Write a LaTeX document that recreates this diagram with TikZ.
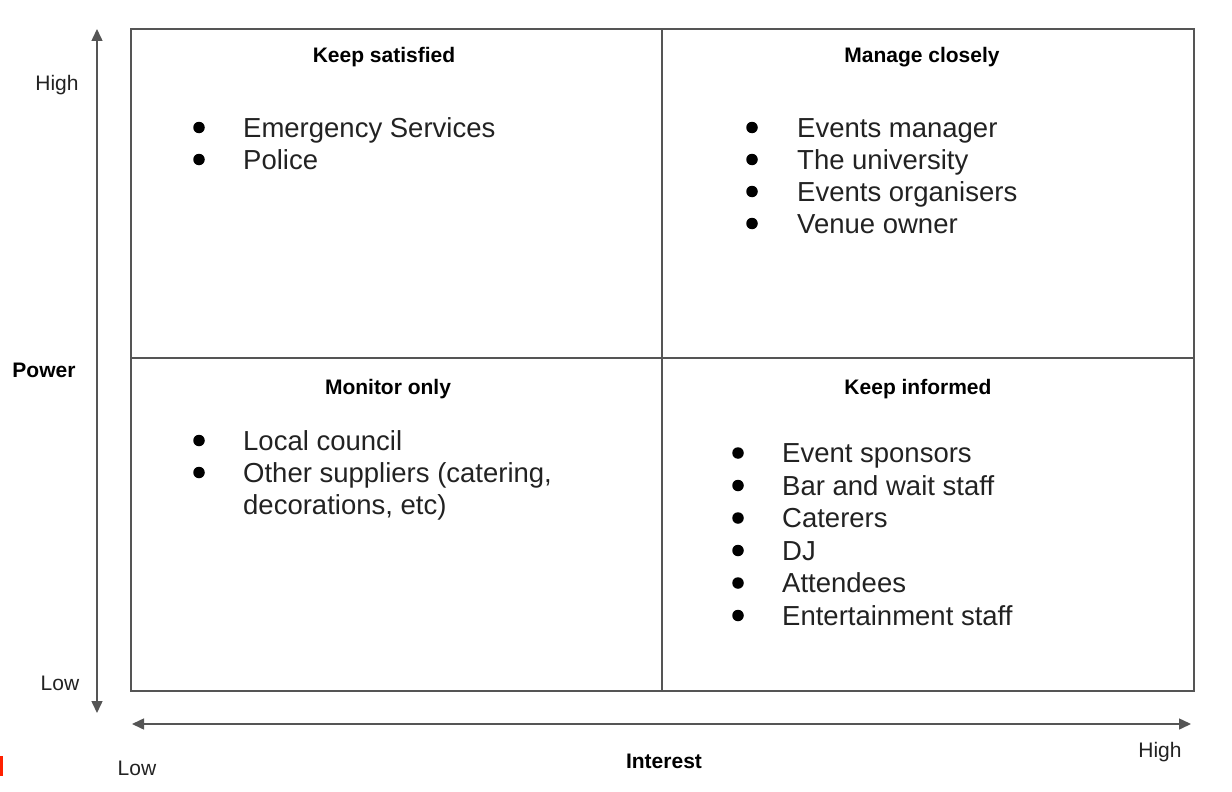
\documentclass[tikz,border=0pt]{standalone}
\usepackage{fontspec}
\setmainfont{Liberation Sans}
\usetikzlibrary{arrows.meta}
\definecolor{txt}{HTML}{222222}
\definecolor{ln}{HTML}{555555}
\begin{document}
\begin{tikzpicture}[x=1pt,y=-1pt,
  item/.style={anchor=base west,inner sep=0pt,text=txt,font=\fontsize{27.5}{32}\selectfont},
  head/.style={anchor=base,inner sep=0pt,text=black,font=\fontsize{21}{24}\selectfont\bfseries},
  lab/.style={anchor=base,inner sep=0pt,text=txt,font=\fontsize{21}{24}\selectfont},
  dot/.style={circle,fill=black,inner sep=0pt,minimum size=11.5pt},
  frame/.style={draw=ln,line width=1.5pt},
  axis/.style={draw=ln,line width=1.5pt,{Triangle[length=12pt,width=11pt]}-{Triangle[length=12pt,width=11pt]}}]
\useasboundingbox (0,0) rectangle (1232,792);
% quadrant frame
\draw[frame] (131,29) rectangle (1194,691);
\draw[frame] (662,29) -- (662,691);
\draw[frame] (131,358) -- (1194,358);
% axes
\coordinate (vt) at (97,29);
\coordinate (vb) at (97,713);
\coordinate (hl) at (132,724);
\coordinate (hr) at (1191,724);
\draw[axis] (vb) -- (vt);
\draw[axis] (hl) -- (hr);
% axis labels
\node[lab] (hi1) at (57,90) {High};
\node[lab] (lo1) at (60,690) {Low};
\node[head] (pw) at (44,377) {Power};
\node[lab] (lo2) at (137,775) {Low};
\node[head] (int) at (664,768) {Interest};
\node[lab] (hi2) at (1160,757) {High};
% headings
\node[head] (h1) at (384,63) {Keep satisfied};
\node[head] (h2) at (922,63) {Manage closely};
\node[head] (h3) at (388,394) {Monitor only};
\node[head] (h4) at (918,394) {Keep informed};
% Q1
\foreach \t/\y [count=\i] in {Emergency Services/137,Police/169}{
  \node[dot] (qa\i) at (199,\y-9.5) {};
  \node[item] (ta\i) at (243,\y) {\t};
}
% Q2
\foreach \t/\y [count=\i] in {Events manager/137,The university/169,Events organisers/201,Venue owner/233}{
  \node[dot] (qb\i) at (752,\y-9.5) {};
  \node[item] (tb\i) at (797,\y) {\t};
}
% Q3
\node[dot] (qc1) at (199,450-9.5) {};
\node[item] (tc1) at (243,450) {Local council};
\node[dot] (qc2) at (199,482-9.5) {};
\node[item] (tc2) at (243,482) {Other suppliers (catering,};
\node[item] (tc3) at (243,514) {decorations, etc)};
% Q4
\foreach \t/\y [count=\i] in {Event sponsors/462.5,Bar and wait staff/495,Caterers/527.5,DJ/560,Attendees/592.5,Entertainment staff/625}{
  \node[dot] (qd\i) at (738,\y-9.5) {};
  \node[item] (td\i) at (782,\y) {\t};
}
% red mark at left edge
\fill[red!75!orange] (0,756) rectangle (3,776);
\end{tikzpicture}
\end{document}
